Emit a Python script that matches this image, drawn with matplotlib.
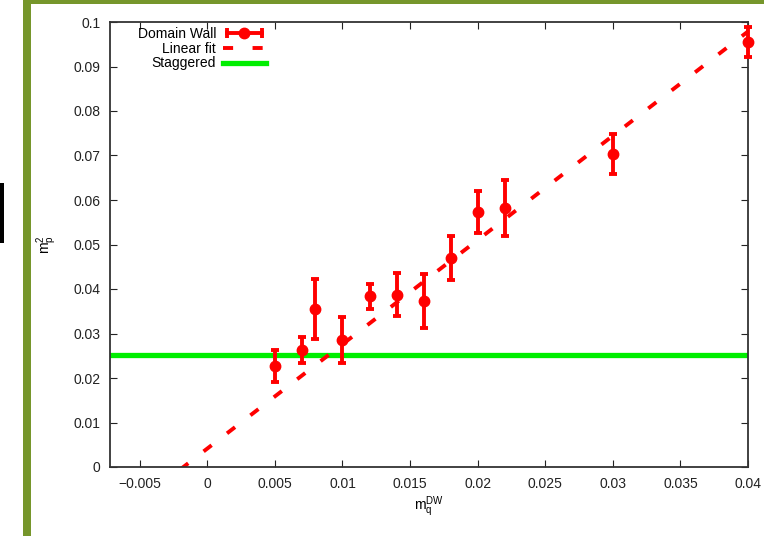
import matplotlib
matplotlib.use('Agg')
import matplotlib.pyplot as plt
import numpy as np
from matplotlib.lines import Line2D
from matplotlib.patches import Rectangle
from matplotlib.legend_handler import HandlerLine2D, HandlerTuple

plt.rcParams['font.family'] = ['Liberation Sans', 'DejaVu Sans']

# domain wall data
mq = [0.005, 0.007, 0.008, 0.010, 0.012, 0.014, 0.016, 0.018, 0.020, 0.022, 0.030, 0.040]
mp2 = [0.0227, 0.0263, 0.0355, 0.0285, 0.0384, 0.0387, 0.0373, 0.0470, 0.0573, 0.0582, 0.0703, 0.0955]
err = [0.0036, 0.0030, 0.0067, 0.0051, 0.0028, 0.0048, 0.0060, 0.0050, 0.0047, 0.0063, 0.0045, 0.0033]

# linear fit y = a + b*x
fit_a = 0.00415
fit_b = 2.343
# staggered value
stag = 0.0252

xticks = [-0.005, 0, 0.005, 0.01, 0.015, 0.02, 0.025, 0.03, 0.035, 0.04]
xticklabels = ['\u22120.005', '0', '0.005', '0.01', '0.015', '0.02', '0.025', '0.03', '0.035', '0.04']
yticks = [0, 0.01, 0.02, 0.03, 0.04, 0.05, 0.06, 0.07, 0.08, 0.09, 0.1]
yticklabels = ['0', '0.01', '0.02', '0.03', '0.04', '0.05', '0.06', '0.07', '0.08', '0.09', '0.1']

red = '#ff0000'
green = '#00ee00'
olive = '#76962b'

fig = plt.figure(figsize=(7.64, 5.36), dpi=100)
W, H = 764., 536.
ax = fig.add_axes([110/W, 1 - 467/H, (748 - 110)/W, (467 - 22)/H])

xlo, xhi = -0.0072, 0.04
ax.set_xlim(xlo, xhi)
ax.set_ylim(0, 0.1)

# linear fit
xf = np.array([xlo, xhi])
ax.plot(xf, fit_a + fit_b*xf, color=red, lw=2.8, linestyle=(0, (2.6, 5.0)),
        dash_capstyle='butt', zorder=2)

# staggered
ax.axhline(stag, color=green, lw=3.8, zorder=1)

# domain wall points
ax.errorbar(mq, mp2, yerr=err, fmt='o', color=red, ms=7.5, elinewidth=2.8,
            capsize=2.8, capthick=2.8, zorder=3, clip_on=False)

ax.set_xticks(xticks)
ax.set_xticklabels(xticklabels)
ax.set_yticks(yticks)
ax.set_yticklabels(yticklabels)
ax.tick_params(direction='in', length=5, width=0.8, top=True, right=True,
               labelsize=10, pad=7, colors='#222222')
for s in ax.spines.values():
    s.set_linewidth(1.3)
    s.set_color('#333333')

ax.set_xlabel(r'$\mathregular{m_q^{DW}}$', fontsize=10, labelpad=3)
ax.set_ylabel(r'$\mathregular{m_p^{2}}$', fontsize=10, labelpad=10)

# legend, gnuplot style (text left, sample right)
h_line = Line2D([], [], color=red, lw=2.8, marker='|', ms=7, mew=2.8)
h_dot = Line2D([], [], color=red, lw=0, marker='o', ms=7.5)
h_fit = Line2D([], [], color=red, lw=2.8, linestyle=(0, (2.6, 5.0)))
h_stag = Line2D([], [], color=green, lw=3.8)
leg = ax.legend([(h_line, h_dot), h_fit, h_stag],
                ['Domain Wall', 'Linear fit', 'Staggered'],
                handler_map={h_line: HandlerLine2D(numpoints=2),
                             h_dot: HandlerLine2D(numpoints=1),
                             tuple: HandlerTuple(ndivide=1)},
                loc='upper right', bbox_to_anchor=(266/W, 1 - 27/H),
                bbox_transform=fig.transFigure, frameon=False, markerfirst=False,
                fontsize=10, handlelength=3.1, handletextpad=0.5,
                labelspacing=0.05, borderpad=0, borderaxespad=0)

# slide frame around the picture
fig.add_artist(Rectangle((23/W, 0), 8/W, 1 - 4/H, transform=fig.transFigure,
                         color=olive, lw=0))
fig.add_artist(Rectangle((23/W, 1 - 4/H), 1 - 23/W, 4/H, transform=fig.transFigure,
                         color=olive, lw=0))
fig.add_artist(Rectangle((0, 1 - 243/H), 4/W, 60/H, transform=fig.transFigure,
                         color='black', lw=0))

fig.savefig('out.png', dpi=100)
